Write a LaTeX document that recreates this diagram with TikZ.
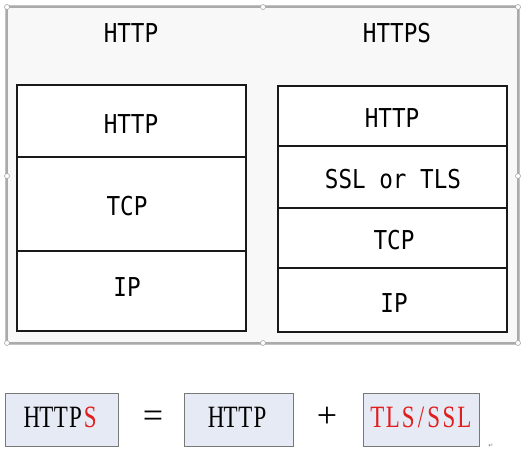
\documentclass[tikz,border=0pt]{standalone}
\usepackage{fontspec}
\usepackage{xcolor}
\newfontfamily\heifont[FakeStretch=0.87]{DejaVu Sans Mono}
\newfontfamily\songfont[FakeStretch=0.74]{Liberation Serif}
\newfontfamily\serifplain{Liberation Serif}
\newfontfamily\symfont{DejaVu Sans}
\newcommand\mch[1]{\makebox[14.6pt]{#1}}
\newcommand\mcw[1]{\makebox[15.4pt]{#1}}
\newcommand\mcs[1]{\makebox[10pt]{#1}}
\definecolor{framefill}{RGB}{248,248,248}
\definecolor{frameedge}{RGB}{170,170,170}
\definecolor{boxfill}{RGB}{230,234,244}
\definecolor{boxedge}{RGB}{120,120,120}
\definecolor{redtxt}{RGB}{225,30,30}
\tikzset{
  layer/.style={draw=black!90, line width=1.6pt, fill=white},
  hei/.style={font=\heifont\fontsize{26}{30}\selectfont, anchor=base, inner sep=0pt},
  song/.style={font=\songfont\fontsize{31}{35}\selectfont, anchor=base, inner sep=0pt},
  opsym/.style={font=\serifplain\fontsize{36}{40}\selectfont, anchor=base, inner sep=0pt},
  formbox/.style={draw=boxedge, line width=1pt, fill=boxfill},
  handle/.style={circle, draw=gray!70, fill=white, line width=0.6pt, inner sep=0pt, minimum size=5pt}
}
\begin{document}
\begin{tikzpicture}[x=1pt, y=-1pt]
\useasboundingbox (0,0) rectangle (524,452);
\fill[white] (0,0) rectangle (524,452);
% frame
\draw[draw=frameedge!70, line width=4pt] (7,7) rectangle (518,343);
\draw[fill=framefill, draw=frameedge, line width=1.2pt] (7,7) rectangle (518,343);
% headings
\node[hei] (hHTTP) at (131,43) {HTTP};
\node[hei] (hHTTPS) at (397,43) {HTTPS};
% left stack
\draw[layer] (17,85) rectangle (246,157);
\draw[layer] (17,157) rectangle (246,251);
\draw[layer] (17,251) rectangle (246,331);
\node[hei] (lHTTP) at (131,133) {HTTP};
\node[hei] (lTCP) at (127,215) {TCP};
\node[hei] (lIP) at (127,296) {IP};
% right stack
\draw[layer] (278,86) rectangle (507,146);
\draw[layer] (278,146) rectangle (507,208);
\draw[layer] (278,208) rectangle (507,268);
\draw[layer] (278,268) rectangle (507,332);
\node[hei] (rHTTP) at (392,127) {HTTP};
\node[hei] (rSSL) at (393,188) {SSL or TLS};
\node[hei] (rTCP) at (394,249) {TCP};
\node[hei] (rIP) at (394,312) {IP};
% handles
\foreach \p/\n in {{(7,7)}/a,{(263,7)}/b,{(518,7)}/c,{(7,176)}/d,{(518,176)}/e,{(7,343)}/f,{(263,343)}/g,{(518,343)}/h}
  \node[handle] (hd\n) at \p {};
% formula row
\draw[formbox] (5,393) rectangle (118,446);
\draw[formbox] (184,393) rectangle (293,446);
\draw[formbox] (363,393) rectangle (479,446);
\node[song] (fHTTPS) at (61,427) {\mch{H}\mch{T}\mch{T}\mch{P}\textcolor{redtxt}{\mch{S}}};
\node[opsym] (feq) at (153,427) {=};
\node[song] (fHTTP) at (238,427) {\mch{H}\mch{T}\mch{T}\mch{P}};
\node[opsym] (fplus) at (327,427) {+};
\node[song, text=redtxt] (fTLS) at (421,427) {\mcw{T}\mcw{L}\mcw{S}\mcs{/}\mcw{S}\mcw{S}\mcw{L}};
\node[font=\symfont\fontsize{6}{7}\selectfont, text=gray, inner sep=0pt] (para) at (491,446) {↵};
\end{tikzpicture}
\end{document}
